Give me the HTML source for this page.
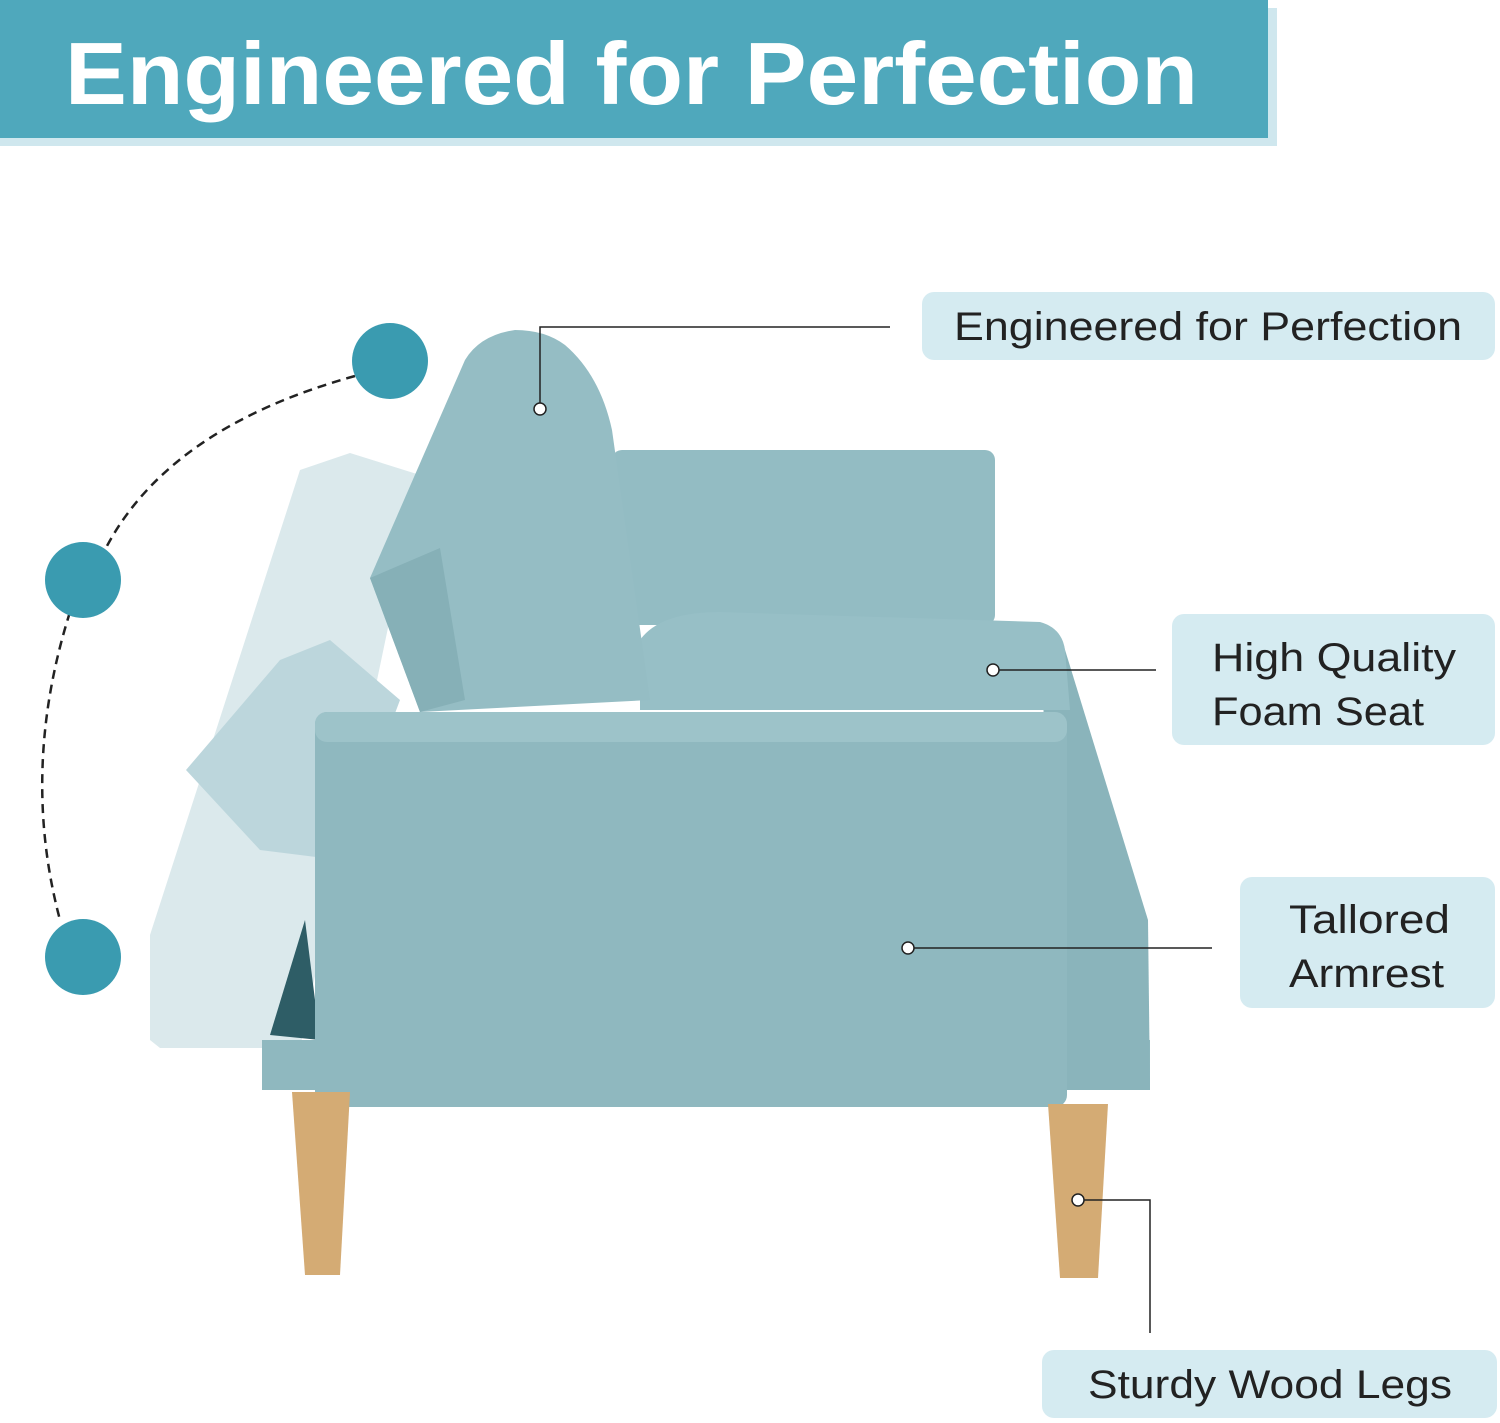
<!DOCTYPE html>
<html><head><meta charset="utf-8"><style>
body{margin:0;width:1500px;height:1423px;background:#fff;overflow:hidden;font-family:"Liberation Sans",sans-serif}
svg{position:absolute;left:0;top:0}
</style></head><body>
<svg width="1500" height="1423" viewBox="0 0 1500 1423">
<rect x="0" y="8" width="1277" height="138" fill="#cfe7ee"/>
<rect x="0" y="0" width="1268" height="138" fill="#4fa8bc"/>
<text x="65" y="104" font-size="88" fill="#fff" font-weight="bold" textLength="1133" lengthAdjust="spacingAndGlyphs">Engineered for Perfection</text>

<!-- ghost backrest -->
<polygon points="150,935 300,470 350,453 420,475 310,1000 300,1048 160,1048 150,1040" fill="#dbe9ec"/>
<polygon points="186,770 280,660 330,640 400,700 340,860 260,850" fill="#bcd6dc"/>
<!-- base -->
<path d="M262,1040 L1150,1040 L1150,1090 L262,1090 Z" fill="#8fb8bf"/>
<polygon points="270,1035 305,920 320,1040" fill="#2e5d66"/>
<!-- back arm -->
<rect x="612" y="450" width="383" height="175" rx="10" fill="#93bcc3"/>
<!-- seat right side -->
<polygon points="1040,630 1062,640 1148,920 1150,1090 1060,1090" fill="#8ab4bb"/>
<!-- seat -->
<path d="M640,640 Q660,612 720,612 L1040,622 Q1062,628 1065,650 L1070,710 L640,710 Z" fill="#97bfc6"/>
<!-- backrest -->
<path d="M370,578 L465,360 Q480,335 515,330 Q545,330 565,345 Q600,375 612,430 L650,700 L420,712 Z" fill="#95bdc4"/>
<polygon points="370,578 440,548 465,700 420,712" fill="#86b0b7"/>
<!-- front arm -->
<rect x="315" y="712" width="752" height="395" rx="12" fill="#8fb8bf"/>
<rect x="315" y="712" width="752" height="30" rx="12" fill="#9dc3c9"/>
<!-- legs -->
<polygon points="292,1092 350,1092 340,1275 305,1275" fill="#d4ab74"/>
<polygon points="1048,1104 1108,1104 1098,1278 1060,1278" fill="#d4ab74"/>

<!-- circles & arc -->
<path d="M355,376 Q160,430 100,560 M70,612 Q20,770 60,920" fill="none" stroke="#222" stroke-width="2.5" stroke-dasharray="9,6"/>
<circle cx="390" cy="361" r="38" fill="#3a9bb0"/>
<circle cx="83" cy="580" r="38" fill="#3a9bb0"/>
<circle cx="83" cy="957" r="38" fill="#3a9bb0"/>

<!-- callout lines -->
<g fill="none" stroke="#222" stroke-width="1.5">
<polyline points="540,403 540,327 890,327"/>
<line x1="999" y1="670" x2="1156" y2="670"/>
<line x1="914" y1="948" x2="1212" y2="948"/>
<polyline points="1084,1200 1150,1200 1150,1333"/>
</g>
<g fill="#fff" stroke="#222" stroke-width="1.5">
<circle cx="540" cy="409" r="6"/><circle cx="993" cy="670" r="6"/><circle cx="908" cy="948" r="6"/><circle cx="1078" cy="1200" r="6"/>
</g>

<!-- labels -->
<g fill="#d5ebf1">
<rect x="922" y="292" width="573" height="68" rx="12"/>
<rect x="1172" y="614" width="323" height="131" rx="12"/>
<rect x="1240" y="877" width="255" height="131" rx="12"/>
<rect x="1042" y="1350" width="455" height="68" rx="12"/>
</g>
<g fill="#222" font-size="40" lengthAdjust="spacingAndGlyphs">
<text x="954" y="340" textLength="508" lengthAdjust="spacingAndGlyphs">Engineered for Perfection</text>
<text x="1212" y="671" textLength="244" lengthAdjust="spacingAndGlyphs">High Quality</text>
<text x="1212" y="725" textLength="212" lengthAdjust="spacingAndGlyphs">Foam Seat</text>
<text x="1289" y="933" textLength="161" lengthAdjust="spacingAndGlyphs">Tallored</text>
<text x="1289" y="987" textLength="155" lengthAdjust="spacingAndGlyphs">Armrest</text>
<text x="1088" y="1398" textLength="364" lengthAdjust="spacingAndGlyphs">Sturdy Wood Legs</text>
</g>
</svg>
</body></html>
